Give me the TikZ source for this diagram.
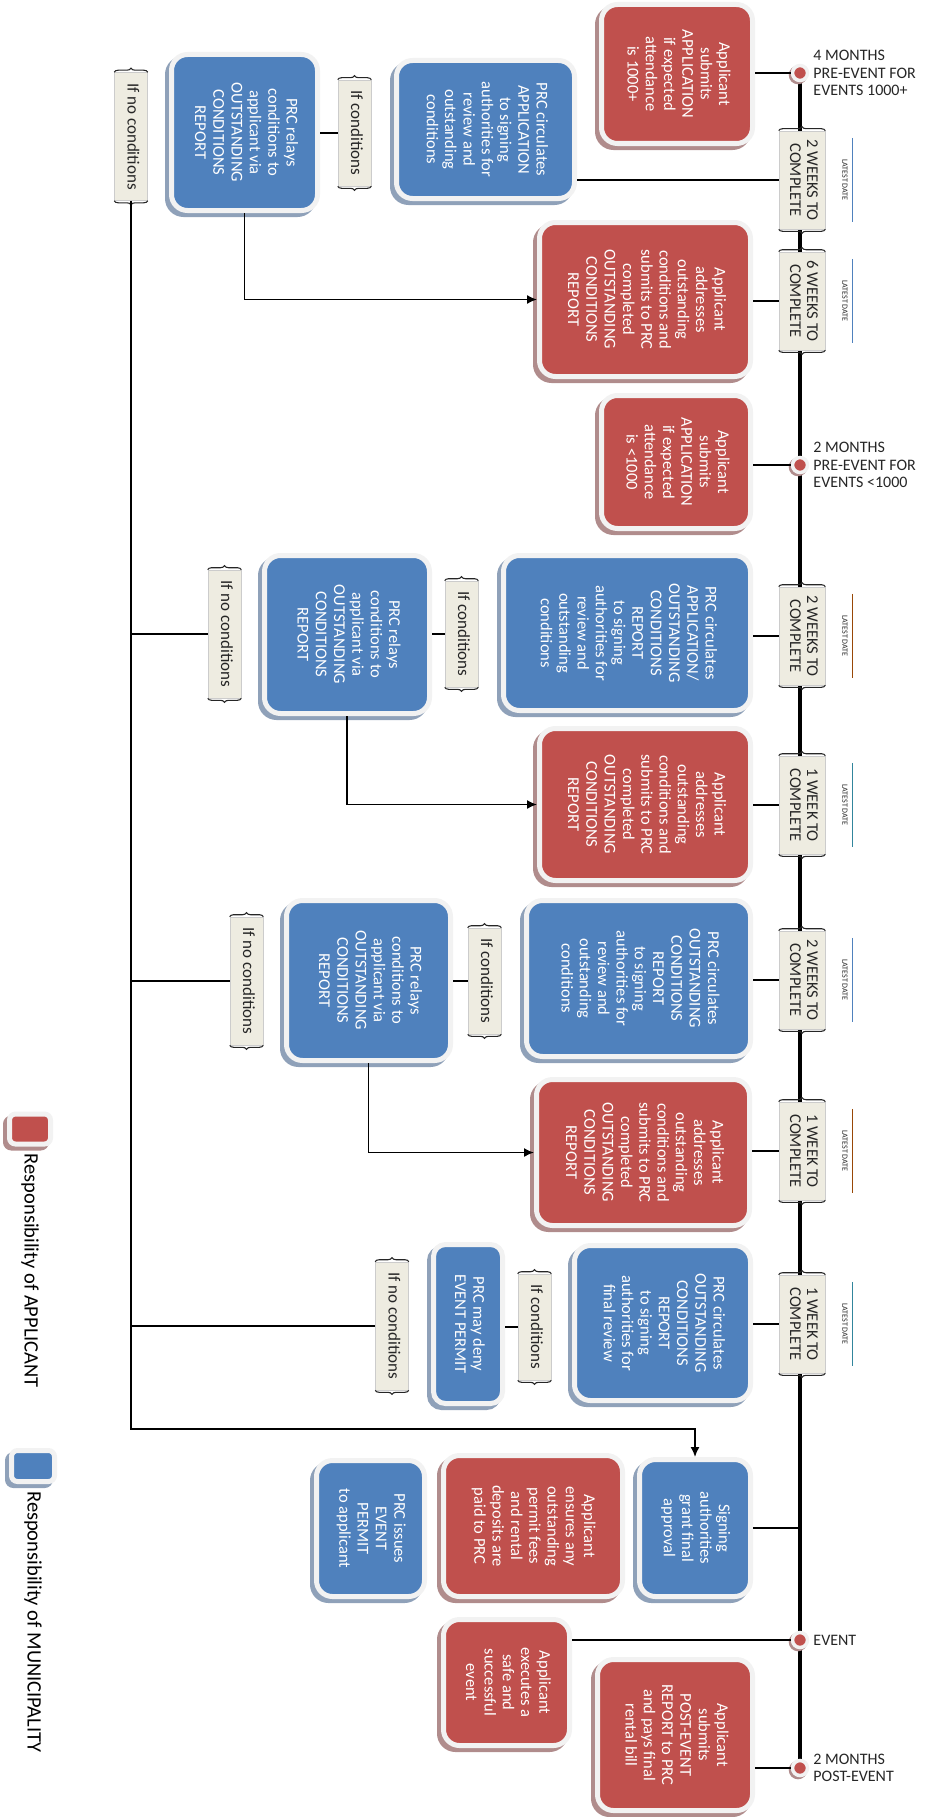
\documentclass[tikz,border=0pt]{standalone}
\usepackage{fontspec}
\setmainfont{Carlito}
\usepackage{graphicx}
\usetikzlibrary{positioning,shadows,backgrounds,decorations.pathreplacing,arrows.meta}

\definecolor{appred}{HTML}{C0504D}
\definecolor{munblue}{HTML}{4F81BD}
\definecolor{rim}{HTML}{F2F2F2}
\definecolor{redshade}{HTML}{B08C8C}
\definecolor{blueshade}{HTML}{8FA1B9}
\definecolor{paper}{HTML}{EEECE1}
\definecolor{ink}{HTML}{262626}
\definecolor{ldblue}{HTML}{4F81BD}
\definecolor{ldbrown}{HTML}{984807}
\definecolor{ldteal}{HTML}{31859C}

\newcommand{\turned}[1]{\rotatebox{-90}{\begin{tabular}{@{}c@{}}#1\end{tabular}}}

\tikzset{
  sz/.style 2 args={minimum width=#1pt, minimum height=#2pt},
  card/.style={rectangle, rounded corners=16pt, line width=5pt, draw=rim, text=white, inner sep=0pt, font=\fontsize{16.5}{18.3}\selectfont},
  appcard/.style={card, fill=appred, general shadow={fill=redshade, draw=redshade, line width=5pt, shadow xshift=-4pt, shadow yshift=-4pt}},
  muncard/.style={card, fill=munblue, general shadow={fill=blueshade, draw=blueshade, line width=5pt, shadow xshift=-4pt, shadow yshift=-4pt}},
  week/.style={rectangle, fill=paper, draw=gray!40, line width=0.6pt, inner sep=0pt, minimum width=46pt, minimum height=98pt, text=ink, font=\fontsize{16.5}{17}\selectfont},
  cond/.style={rectangle, fill=paper, draw=gray!40, line width=0.6pt, inner sep=0pt, minimum width=33pt, text=ink, font=\fontsize{17}{17}\selectfont},
  brc/.style={decorate, decoration={brace, amplitude=4pt}, line width=1.1pt, draw=ink},
  milestone/.style={circle, fill=appred, draw=rim, line width=3.5pt, minimum size=15pt, inner sep=0pt, general shadow={fill=redshade, draw=redshade, line width=3.5pt, shadow xshift=-2pt, shadow yshift=-2pt}},
  when/.style={align=left, inner sep=2pt, text=ink, font=\fontsize{16}{17.5}\selectfont},
  latest/.style={inner sep=0pt, minimum width=14pt, minimum height=84pt, text=ink, font=\fontsize{8}{8}\selectfont},
  keytext/.style={inner sep=0pt, text=black, font=\fontsize{20.5}{22}\selectfont},
  link/.style={line width=1.8pt, draw=black},
  flow/.style={line width=1.6pt, draw=black},
  timeline/.style={line width=4pt, draw=black},
  arr/.style={-{Latex[length=10pt,width=9pt]}}
}

\begin{document}
\begin{tikzpicture}[x=1pt, y=-1pt]
\useasboundingbox (0,0) rectangle (930,1817);

\node[milestone] (c1) at (800,73) {}; \node[when, right=2pt of c1] (c1t) {4 MONTHS\\PRE-EVENT FOR\\EVENTS 1000+};
\node[milestone] (c2) at (800,465) {}; \node[when, right=2pt of c2] (c2t) {2 MONTHS\\PRE-EVENT FOR\\EVENTS <1000};
\node[milestone] (c3) at (800,1640) {}; \node[when, right=2pt of c3] (c3t) {EVENT};
\node[milestone] (c4) at (800,1768) {}; \node[when, right=2pt of c4] (c4t) {2 MONTHS\\POST-EVENT};

\foreach \n/\y/\wk/\c in {1/180/2 WEEKS/ldblue, 2/301/6 WEEKS/ldblue, 3/636/2 WEEKS/ldbrown, 4/805/1 WEEK/ldteal, 5/980/2 WEEKS/ldblue, 6/1151/1 WEEK/ldbrown, 7/1324/1 WEEK/ldteal}{
  \node[week] (t\n) at (802,\y) {\turned{\wk\ TO\\COMPLETE}};
  \node[latest] (d\n) at (845,\y) {\rotatebox{-90}{LATEST DATE}};
  \draw[color=\c, line width=0.8pt] (d\n.north east) -- (d\n.south east);
}

\node[appcard, sz={151}{139}] (a1) at (677,74) {\turned{Applicant\\submits\\APPLICATION\\if expected\\attendance\\is 1000+}};
\node[muncard, sz={178}{138}] (p1) at (485.5,129.5) {\turned{PRC circulates\\APPLICATION\\to signing\\authorities for\\review and\\outstanding\\conditions}};
\node[muncard, sz={146}{156}] (r1) at (244.5,132.5) {\turned{PRC relays\\conditions to\\applicant via\\OUTSTANDING\\CONDITIONS\\REPORT}};
\node[appcard, sz={211}{154}] (o1) at (645,299.5) {\turned{Applicant\\addresses\\outstanding\\conditions and\\submits to PRC\\completed\\OUTSTANDING\\CONDITIONS\\REPORT}};
\node[appcard, sz={149}{133}] (a2) at (676,462) {\turned{Applicant\\submits\\APPLICATION\\if expected\\attendance\\is <1000}};
\node[muncard, sz={247}{155}] (p2) at (627,633) {\turned{PRC circulates\\APPLICATION/\\OUTSTANDING\\CONDITIONS\\REPORT\\to signing\\authorities for\\review and\\outstanding\\conditions}};
\node[muncard, sz={165}{158}] (r2) at (347,634.5) {\turned{PRC relays\\conditions to\\applicant via\\OUTSTANDING\\CONDITIONS\\REPORT}};
\node[appcard, sz={211}{152}] (o2) at (645,804.5) {\turned{Applicant\\addresses\\outstanding\\conditions and\\submits to PRC\\completed\\OUTSTANDING\\CONDITIONS\\REPORT}};
\node[muncard, sz={224}{156}] (p3) at (638.5,978.5) {\turned{PRC circulates\\OUTSTANDING\\CONDITIONS\\REPORT\\to signing\\authorities for\\review and\\outstanding\\conditions}};
\node[muncard, sz={164}{160}] (r3) at (368.5,980.5) {\turned{PRC relays\\conditions to\\applicant via\\OUTSTANDING\\CONDITIONS\\REPORT}};
\node[appcard, sz={213}{146}] (o3) at (643,1152.5) {\turned{Applicant\\addresses\\outstanding\\conditions and\\submits to PRC\\completed\\OUTSTANDING\\CONDITIONS\\REPORT}};
\node[muncard, sz={176}{155}] (p4) at (662.5,1323) {\turned{PRC circulates\\OUTSTANDING\\CONDITIONS\\REPORT\\to signing\\authorities for\\final review}};
\node[muncard, sz={69}{159}, rounded corners=12pt] (deny) at (468,1324) {\turned{PRC may deny\\EVENT PERMIT}};
\node[muncard, sz={111}{137}] (sign) at (695,1528) {\turned{Signing\\authorities\\grant final\\approval}};
\node[appcard, sz={179}{141}] (fees) at (533,1526) {\turned{Applicant\\ensures any\\outstanding\\permit fees\\and rental\\deposits are\\paid to PRC}};
\node[muncard, sz={108}{136}] (issue) at (370.5,1528.5) {\turned{PRC issues\\EVENT\\PERMIT\\to applicant}};
\node[appcard, sz={126}{126}] (run) at (506.5,1682.5) {\turned{Applicant\\executes a\\safe and\\successful\\event}};
\node[appcard, sz={155}{151}] (post) at (675,1735) {\turned{Applicant\\submits\\POST-EVENT\\REPORT to PRC\\and pays final\\rental bill}};

\node[cond, minimum height=128pt] (nc1) at (131,136.5) {\turned{If no conditions}};
\node[cond, minimum height=106pt] (ic1) at (354.5,133) {\turned{If conditions}};
\node[cond, minimum height=128pt] (nc2) at (224.5,634) {\turned{If no conditions}};
\node[cond, minimum height=106pt] (ic2) at (461.5,634) {\turned{If conditions}};
\node[cond, minimum height=128pt] (nc3) at (246.5,981) {\turned{If no conditions}};
\node[cond, minimum height=106pt] (ic3) at (484.5,981) {\turned{If conditions}};
\node[cond, minimum height=128pt] (nc4) at (392,1326) {\turned{If no conditions}};
\node[cond, minimum height=106pt] (ic4) at (534.5,1327) {\turned{If conditions}};

\foreach \n in {t1,t2,t3,t4,t5,t6,t7,nc1,ic1,nc2,ic2,nc3,ic3,nc4,ic4}{
  \draw[brc] (\n.north west) -- (\n.north east);
  \draw[brc] (\n.south east) -- (\n.south west);
}

\node[appcard, sz={41}{30}, rounded corners=6pt] (keyapp) at (30,1129) {};
\node[keytext, below=7pt of keyapp] (keyappt) {\rotatebox{-90}{Responsibility of APPLICANT}};
\node[muncard, sz={43}{31}, rounded corners=6pt] (keymun) at (33,1466) {};
\node[keytext, below=7pt of keymun] (keymunt) {\rotatebox{-90}{Responsibility of MUNICIPALITY}};

\begin{scope}[on background layer]
\draw[timeline] (c1) -- (c4);
\end{scope}

\foreach \c/\b in {c1/a1, c2/a2, c3/run, c4/post} \draw[link] (\c.west) -- (\c.west -| \b.east);
\foreach \t/\b in {1/p1, 2/o1, 3/p2, 4/o2, 5/p3, 6/o3, 7/p4} \draw[link] (t\t.west) -- (t\t.west -| \b.east);
\draw[link] (sign.east) -- (sign.east -| c1);

\coordinate (bend) at (131,1429);
\draw[flow, arr] (nc1.south) -- (bend) -| (sign.north);
\foreach \n in {2,3,4} \draw[flow] (nc\n.west) -- (nc\n.west -| bend);
\draw[flow] (ic1.west) -- (ic1.west -| r1.east);
\draw[flow] (ic2.west) -- (ic2.west -| r2.east);
\draw[flow] (ic3.west) -- (ic3.west -| r3.east);
\draw[flow] (ic4.west) -- (ic4.west -| deny.east);
\draw[flow, arr] (r1.south) |- (o1.west);
\draw[flow, arr] (r2.south) |- (o2.west);
\draw[flow, arr] (r3.south) |- (o3.west);
\end{tikzpicture}
\end{document}
